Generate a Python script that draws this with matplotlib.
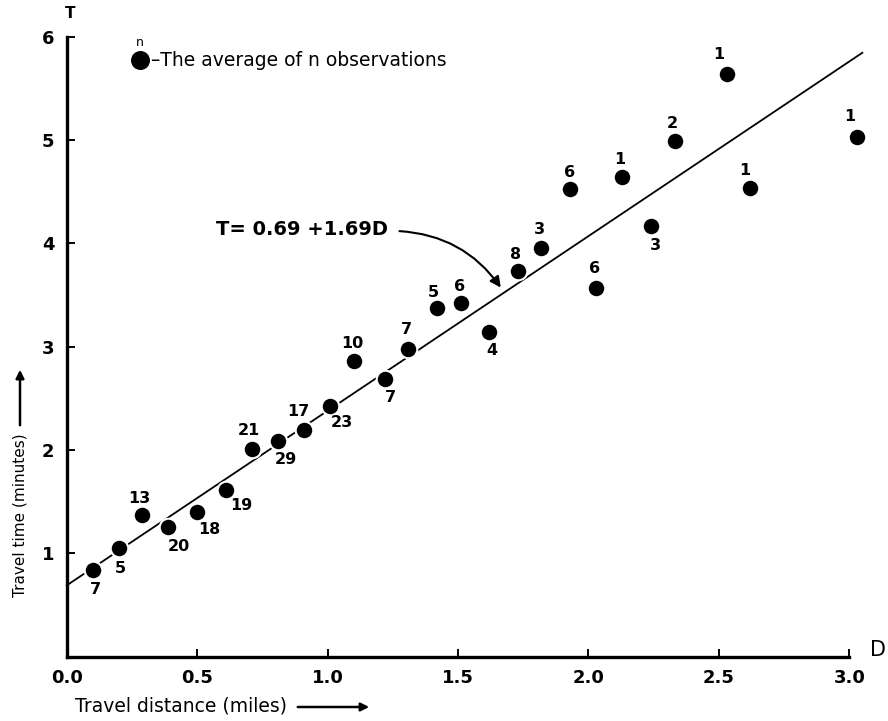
import matplotlib
matplotlib.use("Agg")
import matplotlib.pyplot as plt
from matplotlib import font_manager as fm

# ---- data ----
distance = [0.10, 0.20, 0.29, 0.39, 0.50, 0.61, 0.71, 0.81, 0.91, 1.01,
            1.10, 1.22, 1.31, 1.42, 1.51, 1.62, 1.73, 1.82, 1.93, 2.03,
            2.13, 2.24, 2.33, 2.53, 2.62, 3.03]
time = [0.84, 1.05, 1.37, 1.26, 1.40, 1.61, 2.01, 2.09, 2.19, 2.43,
        2.86, 2.69, 2.98, 3.37, 3.42, 3.14, 3.73, 3.96, 4.53, 3.57,
        4.64, 4.17, 4.99, 5.64, 4.54, 5.03]
n_obs = [7, 5, 13, 20, 18, 19, 21, 29, 17, 23,
         10, 7, 7, 5, 6, 4, 8, 3, 6, 6,
         1, 3, 2, 1, 1, 1]
intercept = 0.69
slope = 1.69
x_ticks = [0.0, 0.5, 1.0, 1.5, 2.0, 2.5, 3.0]
x_tick_labels = ["0.0", "0.5", "1.0", "1.5", "2.0", "2.5", "3.0"]
y_ticks = [1, 2, 3, 4, 5, 6]
y_tick_labels = ["1", "2", "3", "4", "5", "6"]

# label offsets in pixels (dx right, dy down) -- layout only
label_offsets = [(3, 20), (2, 20), (-3, -17), (10, 20), (12, 17), (15, 15),
                 (-3, -19), (8, 19), (-6, -19), (12, 17), (-1, -18), (5, 19),
                 (-2, -19), (-4, -16), (-1, -17), (3, 18), (-2, -17), (-2, -18),
                 (-1, -16), (-2, -19), (-3, -18), (4, 20), (-2, -18), (-8, -19),
                 (-5, -17), (-7, -20)]


def has_font(name):
    try:
        fm.findfont(fm.FontProperties(family=name), fallback_to_default=False)
        return True
    except Exception:
        return False

narrow = "Liberation Sans Narrow" if has_font("Liberation Sans Narrow") else "DejaVu Sans"
num_font = "DejaVu Sans"

W, H = 888, 721
fig = plt.figure(figsize=(W / 100, H / 100), dpi=100)
x0, x1 = 66.7, 849.3
yb, yt = 656.7, 36.7
ax = fig.add_axes([x0 / W, 1 - yb / H, (x1 - x0) / W, (yb - yt) / H])
ax.set_xlim(0, 3.0)
ax.set_ylim(0, 6.0)

for s in ["top", "right"]:
    ax.spines[s].set_visible(False)
for s in ["left", "bottom"]:
    ax.spines[s].set_linewidth(2.4)
    ax.spines[s].set_color("black")

ax.set_xticks(x_ticks)
ax.set_xticklabels(x_tick_labels)
ax.set_yticks(y_ticks)
ax.set_yticklabels(y_tick_labels)
ax.tick_params(direction="in", length=6, width=1.4, pad=9, labelsize=13)
for lab in ax.get_xticklabels() + ax.get_yticklabels():
    lab.set_fontfamily(num_font)
    lab.set_fontweight("bold")

# regression line
xs = [0.0, 3.05]
ys = [intercept + slope * v for v in xs]
ax.plot(xs, ys, color="black", lw=1.3, zorder=2, clip_on=False)

# points
ax.scatter(distance, time, s=160, color="black", edgecolors="white",
           linewidths=1.5, zorder=3, clip_on=False)

for d, t, n, (dx, dy) in zip(distance, time, n_obs, label_offsets):
    ax.annotate(str(n), (d, t), xytext=(dx * 0.72, -dy * 0.72),
                textcoords="offset points", ha="center", va="center",
                fontsize=11.5, fontweight="bold", family=num_font,
                annotation_clip=False)

# equation annotation
ax.annotate("", xy=(1.67, 3.55), xytext=(1.265, 4.12),
            arrowprops=dict(arrowstyle="-|>", color="black", lw=1.5,
                            mutation_scale=16,
                            connectionstyle="arc3,rad=-0.25"))
fig.text(216 / W, 1 - 229 / H, "T= 0.69 +1.69D", fontsize=14,
         fontweight="bold", family=num_font, ha="left", va="center")

# legend
ax.scatter([(140 - x0) / (x1 - x0) * 3.0], [(yb - 60) / (yb - yt) * 6.0],
           s=160, color="black", zorder=3, clip_on=False)
fig.text(140 / W, 1 - 43 / H, "n", fontsize=9, family=narrow,
         ha="center", va="center")
fig.text(151 / W, 1 - 60 / H, "\u2013The average of n observations",
         fontsize=13.5, family=narrow, ha="left", va="center")

# axis letter labels
fig.text(70 / W, 1 - 14 / H, "T", fontsize=11, fontweight="bold",
         family=num_font, ha="center", va="center")
fig.text(878 / W, 1 - 650 / H, "D", fontsize=15, family=num_font,
         ha="center", va="center")

# axis titles with arrows
fig.text(75 / W, 1 - 706 / H, "Travel distance (miles)", fontsize=13.5,
         family=narrow, ha="left", va="center")
fig.add_artist(matplotlib.patches.FancyArrowPatch(
    (295 / W, 1 - 707 / H), (372 / W, 1 - 707 / H),
    transform=fig.transFigure, arrowstyle="-|>", mutation_scale=12,
    lw=1.8, color="black"))

fig.text(20 / W, 1 - 515 / H, "Travel time (minutes)", fontsize=11,
         family=narrow, rotation=90, ha="center", va="center")
fig.add_artist(matplotlib.patches.FancyArrowPatch(
    (20 / W, 1 - 428 / H), (20 / W, 1 - 367 / H),
    transform=fig.transFigure, arrowstyle="-|>", mutation_scale=12,
    lw=1.8, color="black"))

fig.savefig("out.png", dpi=100, facecolor="white")
